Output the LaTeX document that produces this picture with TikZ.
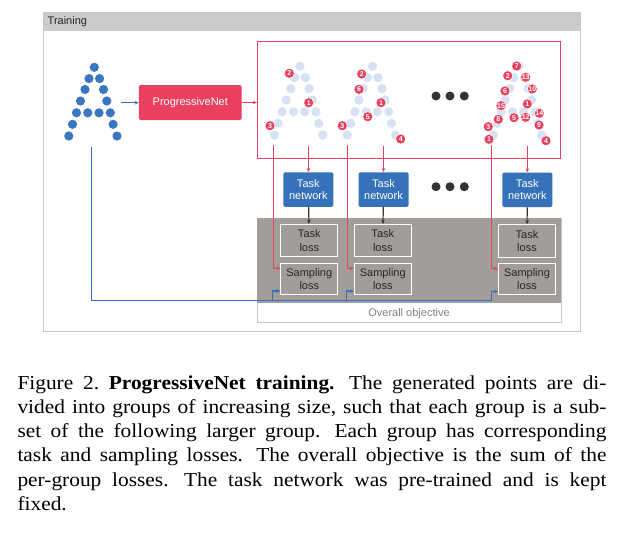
\documentclass[tikz,border=0pt]{standalone}
\usepackage{fontspec}
\usepackage{graphicx}
\setmainfont{Liberation Sans}
\newfontfamily\capfont{Liberation Serif}
\usetikzlibrary{arrows.meta}
\definecolor{pred}{HTML}{E8405E}
\definecolor{pblue}{HTML}{3572B9}
\definecolor{dotblue}{HTML}{3A76C2}
\definecolor{lblue}{HTML}{D6E2F4}
\definecolor{lossgray}{HTML}{A29D9B}
\definecolor{framegray}{HTML}{C6C6C6}
\definecolor{titlegray}{HTML}{CBCBCB}
\definecolor{darkc}{HTML}{333333}
\newcommand\sentsp{\hspace{0.22em}}
\newcommand\capline[1]{\makebox[545.4pt][s]{#1}}
\begin{document}
\begin{tikzpicture}[x=1pt,y=-1pt,
  tip/.style={-{Stealth[length=4pt,width=3.6pt]}},
  pnet/.style={fill=pred, rounded corners=1.5pt, minimum width=102.7pt, minimum height=35pt, inner sep=0pt, text=white, font=\fontsize{11}{13}\selectfont},
  tnet/.style={fill=pblue, rounded corners=1.5pt, minimum width=50pt, minimum height=34.5pt, inner sep=0pt, text=white, align=center, font=\fontsize{11}{12.4}\selectfont},
  lossbox/.style={draw=white, line width=1pt, minimum width=56.7pt, inner sep=0pt, text=black!85, align=center, font=\fontsize{11}{13.3}\selectfont},
  tlbox/.style={lossbox, minimum height=32.4pt},
  slbox/.style={lossbox, minimum height=31pt},
  lbl/.style={circle, fill=pred, draw=white, line width=0.5pt, minimum size=10pt, inner sep=0pt, text=white, font=\fontsize{7}{7}\selectfont\bfseries},
  redthin/.style={draw=pred, line width=0.9pt},
  redthick/.style={draw=pred, line width=1.4pt},
  blueline/.style={draw=pblue, line width=1.1pt},
  darkline/.style={draw=darkc, line width=1.2pt},
  ell/.style={fill=darkc},
]
\useasboundingbox (0,0) rectangle (627,544);
\fill[white] (0,0) rectangle (627,544);

% outer frame
\fill[titlegray] (43,12) rectangle (580.5,30.5);
\draw[framegray, line width=1pt] (43,12) rectangle (580.5,331);
\node[anchor=west, inner sep=0pt, text=black!85, font=\fontsize{11}{13}\selectfont] (title) at (47.5,21.5) {Training};

% point shape template
\def\Apts{0/0, -5.3/11.3, 5.3/11.3, -9.3/22.2, 9.2/22.2, -13.8/33.7, 12.5/33.7, -17.8/45.5, -6.5/45.5, 4.7/45.5, 16/45.5, -21.8/57, 18.8/57, -25.5/68.7, 22.7/68.7}

% input points
\foreach \dx/\dy in \Apts {\fill[dotblue] (94.3+\dx,67.3+\dy) circle[radius=4.6pt];}

% ProgressiveNet
\node[pnet] (pn) at (190.3,102.5) {ProgressiveNet};
\coordinate (ain) at (121,102.7);
\draw[blueline, tip] (ain) -- (ain -| pn.west);

% red box with generated groups
\node[draw=pred, line width=1pt, minimum width=302.7pt, minimum height=116.6pt, inner sep=0pt] (rb) at (408.65,100) {};
\draw[redthin, tip] (pn.east) -- (pn.east -| rb.west);

\foreach \ox in {300,372.7,519} {
  \foreach \dx/\dy in \Apts {\fill[lblue] (\ox+\dx,66.3+\dy) circle[radius=4.6pt];}
}
\foreach \x/\y/\t [count=\i] in {289.3/73.3/2, 308.7/102.7/1, 270/125.7/3,
   361.7/74/2, 359/89.3/6, 381/102.7/1, 367.7/116.7/5, 342.3/125.7/3, 400.7/139/4,
   516.7/66/7, 507.7/75.7/2, 525.7/77.3/13, 505/91/6, 532.3/89/10, 501/105.7/15, 527.3/104/1,
   539.3/113.3/14, 498.3/119.3/8, 514/117.7/5, 525.7/117.3/12, 488.3/126.7/3, 539/125/9, 489/139.3/1, 546/140.7/4}
  {\node[lbl] (lab\i) at (\x,\y) {\t};}

% ellipses
\foreach \y [count=\j] in {96,186.7,260} {
  \foreach \x [count=\k] in {436,450,464.3} {\fill[ell] (\x,\y) circle[radius=4.5pt];}
}

% overall objective block
\node[draw=framegray, line width=1pt, minimum width=303.4pt, minimum height=104pt, inner sep=0pt, anchor=north west] (obj) at (257.3,218.3) {};
\fill[lossgray] (257.3,218.3) rectangle (560.7,302.5);
\node[text=black!50, font=\fontsize{11}{13}\selectfont, inner sep=0pt] (objtext) at (409,313.5) {Overall objective};

% task networks
\node[tnet] (tn1) at (308.3,189.5) {Task\\network};
\node[tnet] (tn2) at (383.5,189.5) {Task\\network};
\node[tnet] (tn3) at (527.3,189.8) {Task\\network};

% losses
\node[tlbox] (tl1) at (309.3,240.5) {Task\\loss};
\node[tlbox] (tl2) at (382.8,240.5) {Task\\loss};
\node[tlbox] (tl3) at (527,240.8) {Task\\loss};
\node[slbox] (sl1) at (309.3,278.8) {Sampling\\loss};
\node[slbox] (sl2) at (382.8,278.8) {Sampling\\loss};
\node[slbox] (sl3) at (527,279.3) {Sampling\\loss};

% connectors from groups
\coordinate (g1a) at (273.3,145); \coordinate (g1b) at (308.3,146);
\coordinate (g2a) at (347.3,145); \coordinate (g2b) at (383.5,146);
\coordinate (g3a) at (491.3,145); \coordinate (g3b) at (527.3,146);
\draw[redthick, tip] (g1b) -- (tn1.north);
\draw[redthick, tip] (g2b) -- (tn2.north);
\draw[redthick, tip] (g3b) -- (tn3.north);
\draw[redthin, tip] (g1a) |- ([yshift=10.5pt]sl1.west);
\draw[redthin, tip] (g2a) |- ([yshift=10.5pt]sl2.west);
\draw[redthin, tip] (g3a) |- ([yshift=10.5pt]sl3.west);
\draw[darkline, tip] (tn1) -- (tl1);
\draw[darkline, tip] (tn2) -- (tl2);
\draw[darkline, tip] (tn3) -- (tl3);

% input to sampling losses
\coordinate (aout) at (91.3,146.7);
\coordinate (b1) at (272.3,300.7);
\coordinate (b2) at (346.7,300.7);
\coordinate (b3) at (491.3,300.7);
\draw[blueline] (aout) |- (b3);
\draw[blueline, tip] (b1) |- ([yshift=-12.2pt]sl1.west);
\draw[blueline, tip] (b2) |- ([yshift=-12.2pt]sl2.west);
\draw[blueline, tip] (b3) |- ([yshift=-12.2pt]sl3.west);

% caption
\node[anchor=base west, inner sep=0pt, font=\capfont\fontsize{19.8}{24.3}\selectfont] (cap) at (17.3,389) {%
\scalebox{1.08}[1]{\begin{minipage}[t]{545.4pt}
\spaceskip=0pt\xspaceskip=0pt\parindent=0pt\frenchspacing
\capline{Figure 2. \textbf{ProgressiveNet training.}\sentsp{} The generated points are di-}\\
\capline{vided into groups of increasing size, such that each group is a sub-}\\
\capline{set of the following larger group.\sentsp{} Each group has corresponding}\\
\capline{task and sampling losses.\sentsp{} The overall objective is the sum of the}\\
\capline{per-group losses.\sentsp{} The task network was pre-trained and is kept}\\
fixed.
\end{minipage}}};
\end{tikzpicture}
\end{document}
